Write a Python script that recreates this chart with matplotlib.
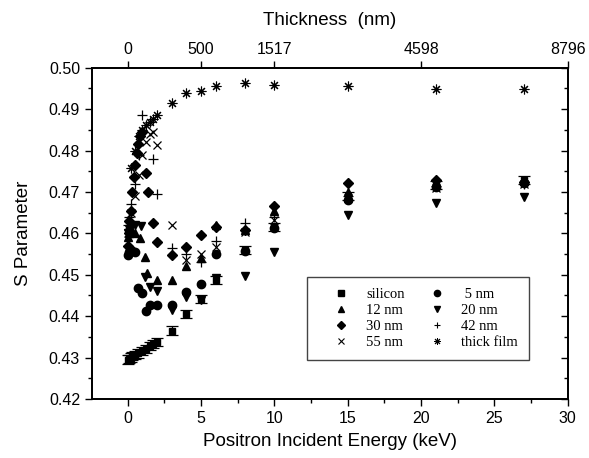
import matplotlib
matplotlib.use('Agg')
import matplotlib.pyplot as plt
from matplotlib.ticker import MultipleLocator, FormatStrFormatter
from matplotlib.lines import Line2D

# ===== DATA =====
silicon_E = [0.0, 0.1, 0.2, 0.3, 0.5, 0.7, 1.0, 1.25, 1.5, 1.75, 2.0, 3, 4, 5, 6, 8, 10, 15, 21, 27]
silicon_S = [0.4295, 0.4297, 0.4300, 0.4303, 0.4306, 0.4310, 0.4315, 0.4320, 0.4328, 0.4333,
             0.4338, 0.4365, 0.4405, 0.4442, 0.4488, 0.4560, 0.4616, 0.4690, 0.4716, 0.4729]
silicon_err = [0.001] * len(silicon_E)

nm5_E = [0.0, 0.1, 0.25, 0.5, 0.7, 1.0, 1.25, 1.5, 2.0, 3, 4, 5, 6, 8, 10, 15, 21, 27]
nm5_S = [0.4548, 0.4555, 0.4560, 0.4555, 0.4467, 0.4455, 0.4413, 0.4427, 0.4427, 0.4427,
         0.4459, 0.4478, 0.4549, 0.4558, 0.4612, 0.4680, 0.4712, 0.4722]

nm12_E = [0.0, 0.1, 0.25, 0.5, 0.8, 1.15, 1.3, 2.0, 3, 4, 5, 6, 8, 10, 15, 21, 27]
nm12_S = [0.4590, 0.4600, 0.4610, 0.4600, 0.4588, 0.4543, 0.4505, 0.4488, 0.4488, 0.4520,
          0.4540, 0.4620, 0.4608, 0.4653, 0.4700, 0.4722, 0.4727]

nm20_E = [0.0, 0.1, 0.25, 0.5, 0.9, 1.2, 1.5, 2.0, 3, 4, 5, 6, 8, 10, 15, 21, 27]
nm20_S = [0.4600, 0.4610, 0.4615, 0.4620, 0.4617, 0.4495, 0.4470, 0.4460, 0.4415, 0.4447,
          0.4440, 0.4492, 0.4497, 0.4556, 0.4645, 0.4673, 0.4689]

nm30_E = [0.0, 0.05, 0.1, 0.2, 0.3, 0.4, 0.5, 0.6, 0.7, 0.8, 1.0, 1.25, 1.4, 1.75, 2.0,
          3, 4, 5, 6, 8, 10, 15, 21, 27]
nm30_S = [0.4570, 0.4600, 0.4630, 0.4655, 0.4700, 0.4735, 0.4765, 0.4795, 0.4815, 0.4835,
          0.4845, 0.4747, 0.4701, 0.4625, 0.4580, 0.4548, 0.4568, 0.4596, 0.4616, 0.4608,
          0.4666, 0.4721, 0.4729, 0.4725]

nm42_E = [0.0, 0.1, 0.25, 0.5, 0.75, 1.0, 1.75, 2.0, 3, 4, 5, 6, 8, 10, 15, 21, 27]
nm42_S = [0.4620, 0.4640, 0.4670, 0.4720, 0.4790, 0.4885, 0.4779, 0.4695, 0.4564, 0.4550,
          0.4530, 0.4581, 0.4624, 0.4640, 0.4690, 0.4715, 0.4720]

nm55_E = [0.0, 0.1, 0.25, 0.5, 0.75, 1.0, 1.25, 1.5, 1.75, 2.0, 3, 4, 5, 6, 8, 10, 15, 21, 27]
nm55_S = [0.4600, 0.4620, 0.4650, 0.4690, 0.4740, 0.4790, 0.4820, 0.4840, 0.4844, 0.4814,
          0.4620, 0.4536, 0.4550, 0.4567, 0.4604, 0.4633, 0.4685, 0.4710, 0.4720]

thick_E = [0.25, 0.5, 0.75, 1.0, 1.25, 1.5, 1.75, 2.0, 3, 4, 5, 6, 8, 10, 15, 21, 27]
thick_S = [0.4757, 0.4800, 0.4835, 0.4850, 0.4862, 0.4870, 0.4877, 0.4886, 0.4916, 0.4939,
           0.4945, 0.4955, 0.4963, 0.4959, 0.4957, 0.4949, 0.4949]

# top axis: energy positions and the matching thickness labels
top_tick_E = [0, 5, 10, 20, 30]
top_tick_labels = ['0', '500', '1517', '4598', '8796']

SANS = 'Liberation Sans'
SERIF = 'Liberation Serif'
STAR = (8, 2, 0)

# ===== FIGURE =====
fig = plt.figure(figsize=(5.89, 4.58), dpi=100)
ax = fig.add_axes([0.156, 0.129, 0.808, 0.723])

ms = 5
ax.errorbar(silicon_E, silicon_S, yerr=silicon_err, fmt='s', color='black', ms=ms,
            capsize=4.5, elinewidth=0.9, capthick=0.9, zorder=3)
ax.plot(nm5_E, nm5_S, 'o', color='black', ms=ms + 1, ls='none')
ax.plot(nm12_E, nm12_S, '^', color='black', ms=ms + 1, ls='none')
ax.plot(nm20_E, nm20_S, 'v', color='black', ms=ms + 1, ls='none')
ax.plot(nm30_E, nm30_S, 'D', color='black', ms=ms, ls='none')
ax.plot(nm42_E, nm42_S, '+', color='black', ms=ms + 2, mew=0.9, ls='none')
ax.plot(nm55_E, nm55_S, 'x', color='black', ms=ms + 1, mew=0.9, ls='none')
ax.plot(thick_E, thick_S, marker=STAR, color='black', ms=ms + 2, mew=0.8, ls='none')

ax.set_xlim(-2.45, 30)
ax.set_ylim(0.42, 0.50)

ax.xaxis.set_major_locator(MultipleLocator(5))
ax.xaxis.set_minor_locator(MultipleLocator(2.5))
ax.yaxis.set_major_locator(MultipleLocator(0.01))
ax.yaxis.set_minor_locator(MultipleLocator(0.005))
ax.yaxis.set_major_formatter(FormatStrFormatter('%.2f'))

ax.tick_params(axis='x', which='both', direction='out', top=False)
ax.tick_params(axis='y', which='both', direction='out', right=False)
ax.tick_params(which='major', length=5, width=1)
ax.tick_params(which='minor', length=3, width=1)
for lab in ax.get_xticklabels() + ax.get_yticklabels():
    lab.set_fontfamily(SANS)
    lab.set_fontsize(11.5)

# right side: inward ticks, no labels
axr = ax.twinx()
axr.set_ylim(ax.get_ylim())
axr.yaxis.set_major_locator(MultipleLocator(0.01))
axr.yaxis.set_minor_locator(MultipleLocator(0.005))
axr.tick_params(axis='y', which='both', direction='in', labelright=False)
axr.tick_params(which='major', length=5, width=1)
axr.tick_params(which='minor', length=3, width=1)

# top axis with thickness labels
axt = ax.twiny()
axt.set_xlim(ax.get_xlim())
axt.set_xticks(top_tick_E)
axt.set_xticklabels(top_tick_labels, fontfamily=SANS, fontsize=11.5)
axt.tick_params(axis='x', direction='out', length=5, width=1, pad=3)
axt.set_xlabel('Thickness  (nm)', fontfamily=SANS, fontsize=13.5, labelpad=12)

for a in (ax, axr, axt):
    for sp in a.spines.values():
        sp.set_linewidth(1.1)

ax.set_xlabel('Positron Incident Energy (keV)', fontfamily=SANS, fontsize=13.5, labelpad=5)
ax.set_ylabel('S Parameter', fontfamily=SANS, fontsize=13.5, labelpad=12)

# legend with plain marker handles (no error bars), filled column by column
def handle(marker, size, mew=1.0):
    return Line2D([], [], ls='none', marker=marker, color='black', ms=size, mew=mew)

handles = [handle('s', 4), handle('^', 4.5), handle('D', 3.8), handle('x', 4.5, 0.8),
           handle('o', 4.5), handle('v', 4.5), handle('+', 5, 0.8), handle(STAR, 5, 0.7)]
labels = ['silicon', '12 nm', '30 nm', '55 nm', ' 5 nm', '20 nm', '42 nm', 'thick film']
leg = ax.legend(handles, labels, ncol=2, loc='upper left',
                bbox_to_anchor=(0.452, 0.369), borderaxespad=0,
                prop={'family': SERIF, 'size': 10.5}, fancybox=False, edgecolor='#444444',
                framealpha=1, handlelength=3.2, handletextpad=0.1, labelspacing=0.2,
                borderpad=0.75, columnspacing=0.6)
leg.get_frame().set_linewidth(1.0)

fig.savefig('out.png', dpi=100)
